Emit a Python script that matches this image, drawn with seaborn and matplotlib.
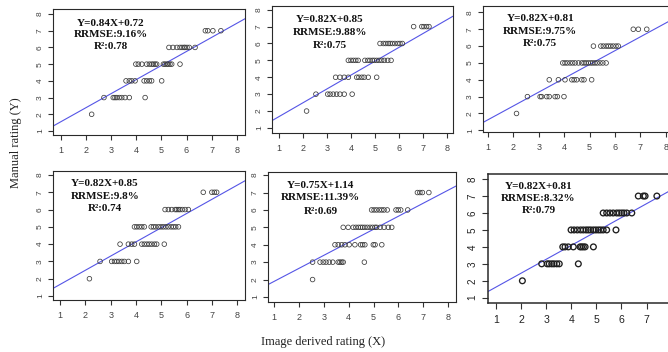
import matplotlib
matplotlib.use("Agg")
import matplotlib.pyplot as plt
import seaborn as sns
import pandas as pd

# ---- data: image derived rating (X) per manual rating level (Y) ----
p1_rows = {
    7: [6.75, 6.85, 7.05, 7.37],
    6: [5.30, 5.46, 5.62, 5.74, 5.82, 5.90, 5.94, 6.02, 6.11, 6.34],
    5: [3.98, 4.08, 4.22, 4.41, 4.52, 4.61, 4.68, 4.75, 4.81, 5.08, 5.14, 5.21, 5.27, 5.34, 5.41, 5.74],
    4: [3.59, 3.72, 3.82, 3.95, 4.31, 4.41, 4.52, 4.61, 5.01],
    3: [2.71, 3.08, 3.15, 3.22, 3.32, 3.42, 3.55, 3.72, 4.35],
    2: [2.22],
}
p2_rows = {
    7: [6.61, 6.95, 7.04, 7.15, 7.25],
    6: [5.21, 5.35, 5.45, 5.55, 5.63, 5.72, 5.83, 5.95, 6.04, 6.14],
    5: [3.89, 4.00, 4.10, 4.20, 4.30, 4.58, 4.70, 4.79, 4.89, 4.97, 5.07, 5.17, 5.28, 5.39, 5.53, 5.67],
    4: [3.36, 3.54, 3.72, 3.89, 4.24, 4.33, 4.45, 4.55, 4.72, 5.07],
    3: [2.54, 3.03, 3.13, 3.26, 3.40, 3.54, 3.72, 4.05],
    2: [2.15],
}
p3_rows = {
    7: [6.72, 6.92, 7.25],
    6: [5.15, 5.44, 5.54, 5.65, 5.74, 5.83, 5.93, 6.04, 6.13],
    5: [3.94, 4.03, 4.12, 4.23, 4.33, 4.43, 4.56, 4.69, 4.78, 4.86, 4.95, 5.04, 5.12, 5.21, 5.30, 5.41, 5.52, 5.65],
    4: [3.41, 3.77, 4.03, 4.30, 4.39, 4.49, 4.69, 4.78, 5.08],
    3: [2.55, 3.05, 3.11, 3.31, 3.41, 3.64, 3.73, 3.99],
    2: [2.12],
}
p4_rows = {
    7: [6.66, 7.00, 7.10, 7.19],
    6: [5.15, 5.28, 5.41, 5.55, 5.61, 5.68, 5.74, 5.83, 5.94, 6.07],
    5: [3.94, 4.03, 4.13, 4.23, 4.33, 4.60, 4.69, 4.78, 4.89, 4.99, 5.08, 5.18, 5.28, 5.39, 5.48, 5.57, 5.68],
    4: [3.37, 3.70, 3.83, 3.94, 4.23, 4.33, 4.43, 4.52, 4.62, 4.73, 4.82, 5.12],
    3: [2.58, 3.04, 3.15, 3.24, 3.33, 3.44, 3.54, 3.70, 4.03],
    2: [2.16],
}
p5_rows = {
    7: [6.76, 6.86, 6.96, 7.22],
    6: [4.92, 5.02, 5.12, 5.23, 5.33, 5.42, 5.55, 5.90, 5.99, 6.09, 6.37],
    5: [3.78, 3.98, 4.18, 4.29, 4.39, 4.48, 4.56, 4.65, 4.75, 4.86, 4.96, 5.06, 5.12, 5.26, 5.42, 5.59, 5.73],
    4: [3.45, 3.58, 3.72, 3.85, 4.02, 4.25, 4.48, 4.56, 4.65, 4.99, 5.06, 5.33],
    3: [2.55, 2.85, 2.98, 3.09, 3.22, 3.36, 3.58, 3.65, 3.72, 3.78, 4.63],
    2: [2.55],
}
p6_rows = {
    7: [6.67, 6.87, 6.94, 7.41],
    6: [5.27, 5.41, 5.54, 5.67, 5.81, 5.91, 6.01, 6.10, 6.21, 6.41],
    5: [3.99, 4.11, 4.24, 4.37, 4.48, 4.59, 4.68, 4.77, 4.88, 4.98, 5.08, 5.17, 5.27, 5.41, 5.78],
    4: [3.66, 3.75, 3.88, 4.08, 4.35, 4.41, 4.48, 4.55, 4.88],
    3: [2.82, 3.04, 3.12, 3.22, 3.31, 3.42, 3.52, 4.28],
    2: [2.05],
}

slopes = [0.84, 0.82, 0.82, 0.82, 0.75, 0.82]
intercepts = [0.72, 0.85, 0.81, 0.85, 1.14, 0.81]
rrmse = ["9.16%", "9.88%", "9.75%", "9.8%", "11.39%", "8.32%"]
r2 = ["0.78", "0.75", "0.75", "0.74", "0.69", "0.79"]
tick_values = [1, 2, 3, 4, 5, 6, 7, 8]

panels = [p1_rows, p2_rows, p3_rows, p4_rows, p5_rows, p6_rows]

# ---- layout (pixel boxes: left, top, right, bottom) ----
W, H = 668, 352
boxes = [(53, 9, 245, 135), (272, 6, 453, 133), (483, 6, 680, 132),
         (53, 171, 245, 300), (268, 172, 456, 302), (488, 174, 690, 303)]
xlims = [(0.68, 8.33), (0.71, 8.25), (0.80, 8.56),
         (0.72, 8.31), (0.76, 8.31), (0.68, 8.73)]
ylims = [(0.76, 8.30), (0.70, 8.22), (0.90, 8.38),
         (0.77, 8.23), (0.71, 8.18), (0.69, 8.30)]
text_pos = [(0.30, 0.885, 0.800, 0.700), (0.32, 0.890, 0.790, 0.690),
            (0.29, 0.900, 0.795, 0.700), (0.27, 0.900, 0.805, 0.710),
            (0.28, 0.895, 0.800, 0.700), (0.25, 0.905, 0.810, 0.720)]

sns.set_style("ticks")
plt.rcParams["font.family"] = ["Liberation Sans", "DejaVu Sans"]

fig = plt.figure(figsize=(W / 100, H / 100), dpi=100)

for i, rows in enumerate(panels):
    L, T, R, B = boxes[i]
    ax = fig.add_axes([L / W, 1 - B / H, (R - L) / W, (B - T) / H])
    df = pd.DataFrame([(x, y) for y, xs in rows.items() for x in xs],
                      columns=["image", "manual"])
    big = i == 5
    sns.scatterplot(data=df, x="image", y="manual", ax=ax, marker="o",
                    s=17 if big else 11, facecolors="none",
                    edgecolor="#1e1e1e" if big else "#3a3a3a",
                    linewidth=0.95 if big else 0.55, zorder=3)
    ax.axline((0, intercepts[i]), slope=slopes[i], color="#5555e6",
              linewidth=0.8, zorder=2)
    ax.set_xlim(*xlims[i])
    ax.set_ylim(*ylims[i])
    ax.set_xticks(tick_values)
    ax.set_yticks(tick_values)
    ax.set_xlabel("")
    ax.set_ylabel("")
    for sp in ax.spines.values():
        sp.set_visible(True)
        sp.set_color("#2a2a2a")
        sp.set_linewidth(1.1 if big else 0.8)
    fs = 7.6 if big else 6.5
    ax.tick_params(axis="both", direction="out", length=4.5 if big else 3.5,
                   width=0.8, color="#333333", labelcolor="#222222" if big else "#444444",
                   labelsize=fs)
    ax.tick_params(axis="x", pad=4 if big else 4.5)
    ax.tick_params(axis="y", labelrotation=90, pad=3, labelsize=fs - 0.5)
    for lab in ax.get_yticklabels():
        lab.set_verticalalignment("center")

    tx, y1, y2, y3 = text_pos[i]
    lines = ["Y=%.2fX+%.2f" % (slopes[i], intercepts[i]),
             "RRMSE:" + rrmse[i],
             "R\u00b2:" + r2[i]]
    for txt, ty in zip(lines, (y1, y2, y3)):
        ax.text(tx, ty, txt, transform=ax.transAxes, ha="center", va="center",
                fontsize=8, fontweight="bold",
                family=["Liberation Serif", "DejaVu Serif"], color="#111111")

fig.text(16 / W, 1 - 143 / H, "Manual rating (Y)", rotation=90, ha="center",
         va="center", fontsize=9, family=["Liberation Serif", "DejaVu Serif"],
         color="#222222")
fig.text(323 / W, 1 - 342 / H, "Image derived rating (X)", ha="center",
         va="center", fontsize=9, family=["Liberation Serif", "DejaVu Serif"],
         color="#222222")

fig.savefig("out.png", dpi=100)
